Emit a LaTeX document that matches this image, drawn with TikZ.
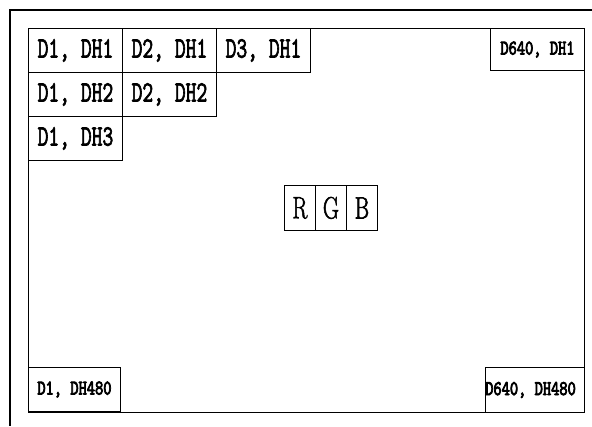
\documentclass[tikz,border=0pt]{standalone}
\usepackage{fontspec}
\usepackage{graphicx}
\newcommand{\thick}[2]{\special{pdf:literal direct 2 Tr #1 w}#2\special{pdf:literal direct 0 Tr}}
\newcommand{\bigtxt}[1]{\scalebox{1}[1.4]{\fontsize{21}{21}\ttfamily\thick{0.6}{#1}}}
\newcommand{\smalltxt}[1]{\scalebox{1}[1.3]{\fontsize{16}{16}\ttfamily\thick{0.7}{#1}}}
\newcommand{\rgbtxt}[1]{\scalebox{1}[1.4]{\fontsize{22}{22}\rmfamily\thick{0.5}{#1}}}
\begin{document}
\begin{tikzpicture}[x=1pt,y=-1pt,
  frame/.style={draw,line width=1.1pt},
  cell/.style={draw,line width=0.9pt,anchor=north west,inner sep=0pt,minimum width=94pt,minimum height=44pt},
  rgbcell/.style={draw,line width=0.8pt,anchor=north west,inner sep=0pt,minimum width=31pt,minimum height=45pt}]
\useasboundingbox (0,0) rectangle (592,426);
% outer frame
\coordinate (otl) at (10,10);
\coordinate (otr) at (592,10);
\coordinate (obl) at (10,426);
\draw[frame,line width=1.4pt] (otr) -- (otl) -- (obl);
% inner frame
\node[frame,anchor=north west,inner sep=0pt,minimum width=556pt,minimum height=384pt] (inner) at (28,28) {};
% cells
\node[cell] (c11) at (28,28) {\bigtxt{D1, DH1}};
\node[cell] (c21) at (122,28) {\bigtxt{D2, DH1}};
\node[cell] (c31) at (216,28) {\bigtxt{D3, DH1}};
\node[cell] (c12) at (28,72) {\bigtxt{D1, DH2}};
\node[cell] (c22) at (122,72) {\bigtxt{D2, DH2}};
\node[cell] (c13) at (28,116) {\bigtxt{D1, DH3}};
% corner cells
\node[cell,minimum height=42pt] (tr) at (490,28) {\smalltxt{D640, DH1}};
\node[cell,minimum width=92pt] (bl) at (28,367) {\smalltxt{D1, DH480}};
\node[cell,minimum width=99pt,minimum height=45pt] (br) at (485,367) {};
\node[anchor=west,inner sep=0pt] (brt) at ([xshift=0pt]br.west) {\smalltxt{D640, DH480}};
% RGB
\node[rgbcell] (r) at (284,185) {\rgbtxt{R}};
\node[rgbcell] (g) at (315,185) {\rgbtxt{G}};
\node[rgbcell] (b) at (346,185) {\rgbtxt{B}};
\end{tikzpicture}
\end{document}
